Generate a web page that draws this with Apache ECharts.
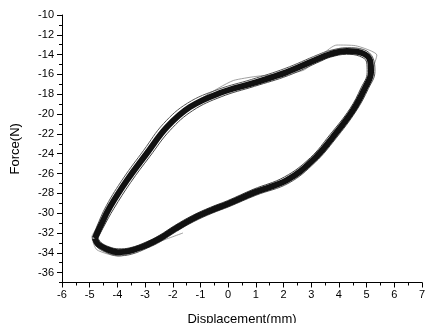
<!DOCTYPE html>
<html>
<head>
<meta charset="utf-8">
<script src="https://cdn.jsdelivr.net/npm/echarts@6/dist/echarts.min.js"></script>
<style>html,body{margin:0;padding:0;background:#fff}#c{width:425px;height:323px}</style>
</head>
<body>
<div id="c"></div>
<script>
// Displacement (mm), Force (N) pairs
var cycleMain = [[-4.81,-32.53],[-4.70,-33.13],[-4.38,-33.64],[-3.98,-33.94],[-3.55,-33.80],[-2.93,-33.20],[-2.46,-32.55],[-1.90,-31.55],[-1.27,-30.55],[-0.60,-29.70],[0.00,-29.05],[0.95,-27.90],[2.12,-26.67],[3.06,-24.65],[3.78,-22.32],[4.51,-19.60],[4.94,-17.37],[5.16,-15.76],[5.12,-14.55],[4.83,-13.84],[4.29,-13.64],[3.68,-13.94],[3.31,-14.34],[2.12,-15.76],[0.90,-16.87],[-0.30,-17.88],[-1.38,-19.29],[-2.21,-21.31],[-2.93,-23.94],[-3.65,-26.67],[-4.27,-29.39],[-4.63,-31.41],[-4.81,-32.53]];
var cycleOuter = [[-4.90,-32.5],[-4.78,-33.3],[-4.42,-33.95],[-3.98,-34.3],[-3.5,-34.15],[-2.9,-33.5],[-2.43,-32.85],[-1.87,-31.85],[-1.24,-30.85],[-0.57,-30.0],[0.03,-29.35],[1.0,-28.2],[2.2,-26.95],[3.15,-24.85],[3.88,-22.5],[4.62,-19.7],[5.07,-17.4],[5.3,-15.7],[5.24,-14.4],[4.9,-13.5],[4.3,-13.3],[3.65,-13.6],[3.25,-14.0],[2.05,-15.4],[0.85,-16.5],[-0.35,-17.5],[-1.47,-18.9],[-2.33,-20.95],[-3.05,-23.65],[-3.78,-26.45],[-4.4,-29.25],[-4.75,-31.4],[-4.90,-32.5]];
var cycleInner = [[-4.70,-32.5],[-4.60,-32.95],[-4.30,-33.4],[-3.95,-33.6],[-3.55,-33.5],[-2.95,-32.9],[-2.49,-32.25],[-1.93,-31.25],[-1.3,-30.25],[-0.63,-29.4],[-0.03,-28.75],[0.9,-27.6],[2.03,-26.35],[2.97,-24.4],[3.67,-22.1],[4.4,-19.45],[4.8,-17.35],[5.02,-15.8],[5.0,-14.75],[4.74,-14.15],[4.27,-13.97],[3.7,-14.25],[3.35,-14.65],[2.18,-16.1],[0.95,-17.2],[-0.25,-18.25],[-1.28,-19.65],[-2.1,-21.65],[-2.82,-24.25],[-3.52,-26.9],[-4.13,-29.55],[-4.5,-31.4],[-4.70,-32.5]];
var cycleStray = [[-1.63,-32.0],[-2.5,-32.9],[-3.0,-33.5],[-3.95,-34.35],[-4.74,-33.7],[-4.92,-32.4],[-4.7,-31.3],[-4.3,-29.3],[-3.7,-26.6],[-3.0,-23.8],[-2.2,-21.1],[-1.3,-19.0],[-0.3,-17.3],[0.2,-16.6],[1.0,-16.2],[2.7,-15.6],[3.93,-13.03],[4.6,-13.1],[5.37,-14.04],[5.2,-15.6],[4.9,-17.5],[4.55,-19.6]];
var xTicks = [-6,-5,-4,-3,-2,-1,0,1,2,3,4,5,6,7];
var yTicks = [-36,-34,-32,-30,-28,-26,-24,-22,-20,-18,-16,-14,-12,-10];
var yMinor = [-37,-35,-33,-31,-29,-27,-25,-23,-21,-19,-17,-15,-13,-11];

var font = 'Liberation Sans, Arial, sans-serif';
var chart = echarts.init(document.getElementById('c'), null, {renderer:'canvas'});
chart.setOption({
  animation:false,
  grid:{left:62, right:3, top:15, bottom:40.5, containLabel:false, outerBoundsMode:'none'},
  xAxis:{
    type:'value', min:xTicks[0], max:xTicks[xTicks.length-1], interval:1,
    name:'Displacement(mm)', nameLocation:'middle', nameGap:30,
    nameTextStyle:{fontFamily:font, fontSize:13, color:'#000'},
    axisLine:{onZero:false, lineStyle:{color:'#000', width:1}},
    axisTick:{show:true, length:5, lineStyle:{color:'#000'}},
    minorTick:{show:true, splitNumber:2, length:3, lineStyle:{color:'#000'}},
    axisLabel:{fontFamily:font, fontSize:11, color:'#000', margin:7},
    splitLine:{show:false}
  },
  yAxis:[{
    type:'value', min:-37, max:-10,
    name:'Force(N)', nameLocation:'middle', nameGap:40,
    nameTextStyle:{fontFamily:font, fontSize:13, color:'#000'},
    axisLine:{onZero:false, lineStyle:{color:'#000', width:1}},
    axisTick:{show:true, length:5, customValues:yTicks, lineStyle:{color:'#000'}},
    axisLabel:{fontFamily:font, fontSize:11, color:'#000', margin:8, customValues:yTicks},
    splitLine:{show:false}
  },{
    type:'value', min:-37, max:-10, position:'left',
    axisLine:{show:false, onZero:false},
    axisTick:{show:true, length:3, customValues:yMinor, lineStyle:{color:'#000'}},
    axisLabel:{show:false, customValues:yMinor},
    splitLine:{show:false}
  }],
  series:[
    {type:'line', data:cycleStray, showSymbol:false, smooth:0.2, lineStyle:{color:'#888', width:0.8}},
    {type:'line', data:cycleOuter, showSymbol:false, smooth:0.4, lineStyle:{color:'#555', width:1}},
    {type:'line', data:cycleInner, showSymbol:false, smooth:0.4, lineStyle:{color:'#444', width:1}},
    {type:'line', data:cycleMain, showSymbol:false, smooth:0.4, lineStyle:{color:'#111', width:6}}
  ]
});
</script>
</body>
</html>
